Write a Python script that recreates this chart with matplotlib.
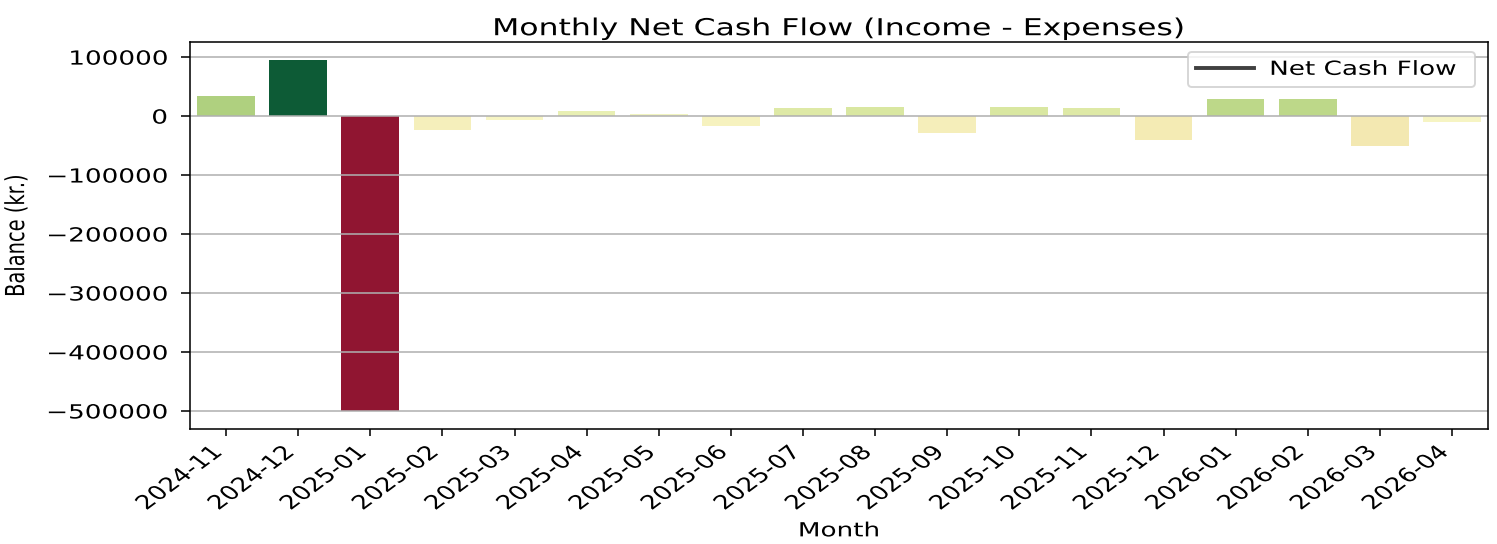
import matplotlib
matplotlib.use('Agg')
import matplotlib.pyplot as plt
import matplotlib.patheffects as pe
from matplotlib.colors import TwoSlopeNorm
from matplotlib.lines import Line2D
from matplotlib.transforms import Affine2D
import seaborn as sns

# monthly net cash flow (kr.)
months = ['2024-11', '2024-12', '2025-01', '2025-02', '2025-03', '2025-04',
          '2025-05', '2025-06', '2025-07', '2025-08', '2025-09', '2025-10',
          '2025-11', '2025-12', '2026-01', '2026-02', '2026-03', '2026-04']
net_flow = [34000, 95800, -500800, -23800, -6800, 8000,
            3000, -16400, 13000, 15200, -28300, 15200,
            13000, -40200, 28300, 28300, -50400, -10700]
yticks = [-500000, -400000, -300000, -200000, -100000, 0, 100000]

W, H, DPI = 1497, 544, 140
SX = 1.35  # the reference text is drawn wider than it is tall


class StretchX(pe.AbstractPathEffect):
    """Widen text glyphs horizontally around one edge (or the centre)."""

    def __init__(self, sx=SX, pivot='center'):
        super().__init__()
        self.sx = sx
        self.pivot = pivot

    def draw_path(self, renderer, gc, tpath, affine, rgbFace=None):
        ext = tpath.get_extents(affine)
        px = {'left': ext.x0, 'right': ext.x1}.get(self.pivot, (ext.x0 + ext.x1) / 2)
        st = Affine2D().translate(-px, 0).scale(self.sx, 1).translate(px, 0)
        renderer.draw_path(gc, tpath, affine + st, rgbFace)


norm = TwoSlopeNorm(vmin=min(net_flow), vcenter=0, vmax=max(net_flow))
cmap = plt.get_cmap('RdYlGn')
colors = [cmap(norm(v)) for v in net_flow]

fig = plt.figure(figsize=(W / DPI, H / DPI), dpi=DPI)
ax = fig.add_axes([190 / W, 1 - 429 / H, (1488 - 190) / W, (429 - 42) / H])
sns.barplot(x=months, y=net_flow, hue=months, palette=colors, legend=False, ax=ax)

ax.set_yticks(yticks)
ax.grid(True, axis='y', color='#b0b0b0', lw=0.8)
ax.grid(False, axis='x')
ax.tick_params(axis='y', length=4.6, pad=7)
ax.tick_params(axis='x', labelrotation=45)
for t in ax.get_xticklabels():
    t.set_ha('right')
    t.set_path_effects([StretchX(pivot='right')])
for t in ax.get_yticklabels():
    t.set_path_effects([StretchX(pivot='right')])

ax.set_title('Monthly Net Cash Flow (Income - Expenses)', pad=3.5,
             path_effects=[StretchX()])
ax.set_xlabel('Month', path_effects=[StretchX()])
ax.set_ylabel('Balance (kr.)', path_effects=[StretchX(pivot='right')])
ax.yaxis.set_label_coords((29 - 190) / (1488 - 190), 0.5)

handle = Line2D([], [], color='#404040', lw=2)
leg = ax.legend([handle], ['Net Cash Flow'], loc='upper left',
                bbox_to_anchor=(0.769, 0.0, 0.221, 0.974), mode='expand',
                borderaxespad=0, handlelength=3.0)
for t in leg.get_texts():
    t.set_path_effects([StretchX(pivot='left')])

fig.savefig('out.png', dpi=DPI)
